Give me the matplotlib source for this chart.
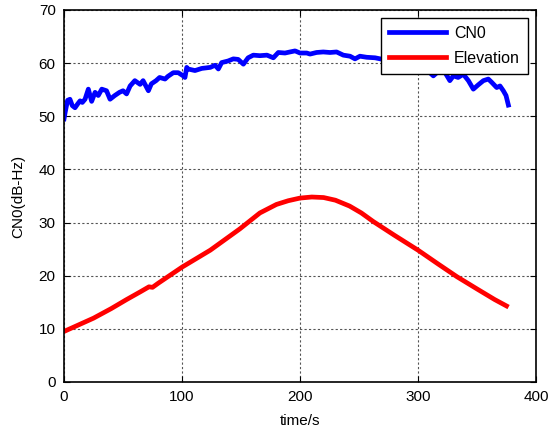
import matplotlib
matplotlib.use("Agg")
import matplotlib.pyplot as plt

plt.rcParams['font.family'] = ['Liberation Sans', 'DejaVu Sans']

# CN0 series (time in s, dB-Hz)
cn0_t = [0, 1, 3, 5, 7, 9.3, 11.5, 13.6, 15.5, 17.8, 20.6, 23.4, 26.3, 29, 32, 36, 39, 43,
         47, 50, 53, 56, 60, 64.5, 67, 71.5, 74, 78, 81, 85.6, 88, 92.6, 96.8, 101, 102.5,
         104, 105, 111, 116.7, 124, 128, 130.8, 133.6, 139, 143.5, 147.6, 152, 156, 160.4,
         166, 172, 177.4, 181.6, 187.3, 191.5, 195.8, 200, 205.7, 208.5, 214, 219.7, 225.4,
         231, 236.7, 242.4, 246.6, 250.8, 256.5, 263.6, 268, 275, 285, 295, 303, 308, 310,
         313, 317.5, 323, 327, 330, 334, 338.4, 342.7, 346.9, 351, 355.4, 359.6, 362.4,
         366.7, 369.5, 372.3, 374.6, 376.6]
cn0_v = [49.5, 50.8, 53.0, 53.2, 52.0, 51.6, 52.3, 52.9, 52.6, 53.2, 55.1, 52.8, 54.5, 53.9,
         55.1, 54.8, 53.2, 53.9, 54.5, 54.8, 54.2, 55.7, 56.7, 56.0, 56.7, 54.8, 56.1, 56.7,
         57.3, 57.0, 57.5, 58.2, 58.2, 57.6, 57.3, 59.2, 58.9, 58.6, 59.0, 59.2, 59.6, 58.9,
         60.1, 60.4, 60.8, 60.7, 59.8, 61.0, 61.5, 61.4, 61.5, 61.0, 62.0, 61.9, 62.1, 62.3,
         61.9, 61.9, 61.7, 62.0, 62.1, 62.0, 62.1, 61.5, 61.3, 60.8, 61.3, 61.1, 61.0, 60.8,
         60.5, 60.2, 59.5, 59.0, 58.5, 58.2, 57.6, 58.5, 58.2, 56.7, 57.6, 57.3, 57.9, 56.7,
         55.1, 55.9, 56.7, 57.0, 56.4, 55.4, 55.7, 54.8, 53.9, 52.1]

# Elevation series (time in s, degrees)
elev_t = [0, 10, 25, 40, 53, 65, 72, 75, 80, 100, 124, 149, 166, 180, 190, 200, 210, 220,
          230, 242, 252, 262, 280, 300, 317, 333, 350, 365, 375]
elev_v = [9.5, 10.5, 12.0, 13.8, 15.5, 17.0, 17.9, 17.8, 18.6, 21.6, 24.8, 28.8, 31.8, 33.4,
          34.1, 34.6, 34.8, 34.7, 34.2, 33.1, 31.8, 30.2, 27.6, 24.8, 22.2, 19.8, 17.5, 15.5,
          14.3]

x_ticks = [0, 100, 200, 300, 400]
y_ticks = [0, 10, 20, 30, 40, 50, 60, 70]

fig = plt.figure(figsize=(5.52, 4.34), dpi=100)
ax = fig.add_axes([0.116, 0.12, 0.855, 0.857])

ax.plot(cn0_t, cn0_v, color='#0000ff', lw=3.4, label='CN0', solid_joinstyle='round')
ax.plot(elev_t, elev_v, color='#ff0000', lw=3.4, label='Elevation', solid_joinstyle='round')

ax.set_xlim(0, 400)
ax.set_ylim(0, 70)
ax.set_xticks(x_ticks)
ax.set_yticks(y_ticks)
ax.tick_params(direction='in', length=4, width=0.8, labelsize=11, top=True, right=True,
               colors='black', pad=6)
ax.grid(True, color='#555555', linestyle=(0, (2, 2)), lw=0.8)
for s in ax.spines.values():
    s.set_linewidth(1.2)
    s.set_color('black')

ax.set_xlabel('time/s', fontsize=11, labelpad=7)
ax.set_ylabel('CN0(dB-Hz)', fontsize=11, labelpad=10)

leg = ax.legend(loc='upper right', fontsize=11.5, handlelength=3.6, fancybox=False,
                framealpha=1, edgecolor='black', borderaxespad=0.5, borderpad=0.5,
                labelspacing=0.6, handletextpad=0.5)
leg.get_frame().set_linewidth(1.0)

fig.savefig('out.png', dpi=100)
